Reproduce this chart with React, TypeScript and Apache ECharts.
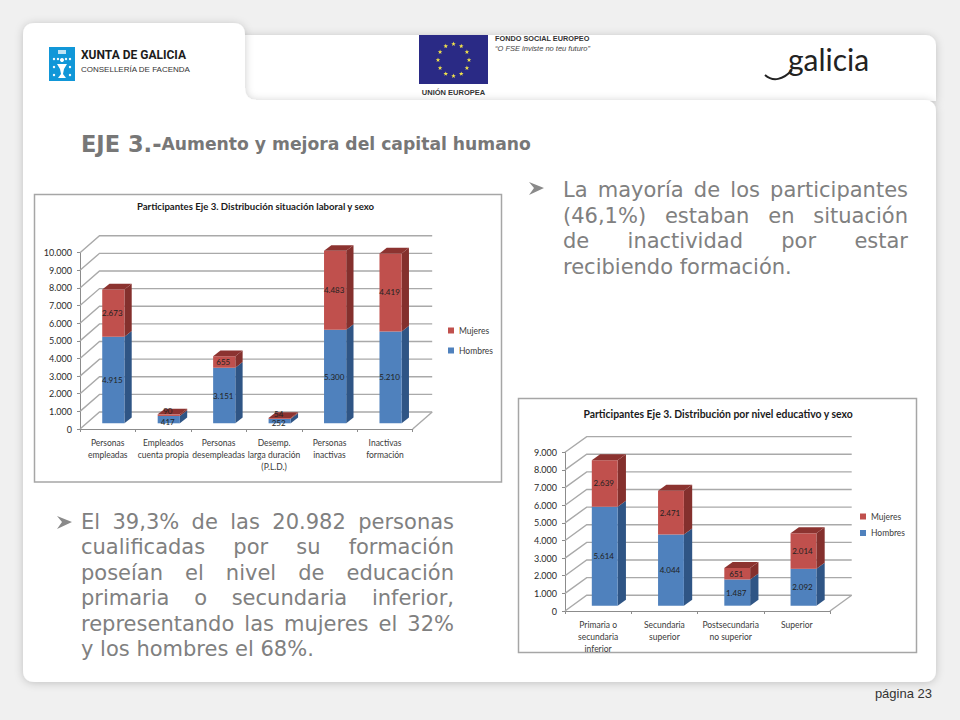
import React, { useEffect, useRef } from "react";
import * as echarts from "echarts";

// ---- data ----
const laborCategories = ["Personas\nempleadas", "Empleados\ncuenta propia", "Personas\ndesempleadas", "Desemp.\nlarga duración\n(P.L.D.)", "Personas\ninactivas", "Inactivas\nformación"];
const laborHombres = [4915, 417, 3151, 252, 5300, 5210];
const laborMujeres = [2673, 90, 655, 54, 4483, 4419];
const eduCategories = ["Primaria o\nsecundaria\ninferior", "Secundaria\nsuperior", "Postsecundaria\nno superior", "Superior"];
const eduHombres = [5614, 4044, 1487, 2092];
const eduMujeres = [2639, 2471, 651, 2014];
const laborTicks = [0, 1000, 2000, 3000, 4000, 5000, 6000, 7000, 8000, 9000, 10000];
const eduTicks = [0, 1000, 2000, 3000, 4000, 5000, 6000, 7000, 8000, 9000];
const legendNames = ["Mujeres", "Hombres"];
const laborTitle = "Participantes Eje 3. Distribución situación laboral y sexo";
const eduTitle = "Participantes Eje 3. Distribución por nivel educativo y sexo";
const paraTop = ["La mayoría de los participantes", "(46,1%) estaban en situación", "de inactividad por estar", "recibiendo formación."];
const paraBottom = ["El 39,3% de las 20.982 personas", "cualificadas por su formación", "poseían el nivel de educación", "primaria o secundaria inferior,", "representando las mujeres el 32%", "y los hombres el 68%."];

const LABEL_FONT = "Lato, 'Open Sans', sans-serif";
const BODY_FONT = "'DejaVu Sans', Verdana, sans-serif";
const SANS = "'Liberation Sans', Arial, sans-serif";
const num = (v: number) => String(v).replace(/\B(?=(\d{3})+$)/g, ".");

echarts.graphic.registerShape(
  "slidePanel",
  echarts.graphic.extendPath("M23,35 Q23,23 35,23 L233,23 Q245,23 245,35 L245,88 Q245,100 257,100 L924,100 Q936,100 936,112 L936,670 Q936,682 924,682 L35,682 Q23,682 23,670 Z", {})
);

type Depth = { wallX: number; wallY: number; shiftX: number; shiftY: number; barX: number; barY: number; ratio: number };
const laborDepth: Depth = { wallX: 19.5, wallY: 17, shiftX: 5.6, shiftY: 5.7, barX: 7.3, barY: 5.7, ratio: 0.4 };
const eduDepth: Depth = { wallX: 21.7, wallY: 15.7, shiftX: 6.6, shiftY: 5.3, barX: 8.3, barY: 6, ratio: 0.39 };

const pt = (a: number, b: number) => [a, b];

function wallSeries(ticks: number[], d: Depth, idx: number) {
  return {
    type: "custom", coordinateSystem: "cartesian2d", xAxisIndex: idx, yAxisIndex: idx, silent: true, z: 1,
    data: ticks.map((t) => [0, t]), encode: { x: 0, y: 1 }, clip: false,
    renderItem: (params: any, api: any) => {
      const v = api.value(1);
      const y = api.coord([0, v])[1];
      const cs = params.coordSys;
      const stroke = { stroke: "#a9a9a9", lineWidth: 1.4, fill: "none" };
      const children: any[] = [{
        type: "polyline",
        shape: { points: [pt(cs.x, y), pt(cs.x + d.wallX, y - d.wallY), pt(cs.x + cs.width + d.wallX, y - d.wallY)] },
        style: stroke,
      }];
      if (v === 0) {
        children.push({
          type: "line",
          shape: { x1: cs.x + cs.width, y1: y, x2: cs.x + cs.width + d.wallX, y2: y - d.wallY },
          style: stroke,
        });
      }
      return { type: "group", children };
    },
  };
}

function barSeries(name: string, base: number[], vals: number[], d: Depth, idx: number, c: { front: string; side: string; top: string }, isTop: boolean) {
  return {
    type: "custom", name, coordinateSystem: "cartesian2d", xAxisIndex: idx, yAxisIndex: idx, silent: true, z: 3,
    itemStyle: { color: c.front }, clip: false,
    data: vals.map((v, i) => [i, base[i], base[i] + v, v]), encode: { x: 0, y: [1, 2] },
    renderItem: (_p: any, api: any) => {
      const cat = api.value(0);
      const lo = api.coord([cat, api.value(1)]);
      const hi = api.coord([cat, api.value(2)]);
      const w = api.size([1, 0])[0] * d.ratio;
      const x0 = lo[0] + d.shiftX - w / 2;
      const x1 = x0 + w;
      const yb = lo[1] - d.shiftY;
      const yt = hi[1] - d.shiftY;
      const val = api.value(3);
      const small = val < 500;
      const labelY = (yb + yt) / 2 + (small ? (isTop ? -4 : 2) : 0);
      const children: any[] = [
        { type: "polygon", shape: { points: [pt(x1, yb), pt(x1 + d.barX, yb - d.barY), pt(x1 + d.barX, yt - d.barY), pt(x1, yt)] }, style: { fill: c.side } },
        { type: "rect", shape: { x: x0, y: yt, width: w, height: yb - yt }, style: { fill: c.front } },
      ];
      if (isTop) {
        children.push({ type: "polygon", shape: { points: [pt(x0, yt), pt(x1, yt), pt(x1 + d.barX, yt - d.barY), pt(x0 + d.barX, yt - d.barY)] }, style: { fill: c.top } });
      }
      children.push({
        type: "text",
        style: { text: num(val), x: (x0 + x1) / 2 - 1, y: labelY, align: "center", verticalAlign: "middle", font: `8px ${LABEL_FONT}`, fill: "#222" },
      });
      return { type: "group", children };
    },
  };
}

const blue = { front: "#4f81bd", side: "#2f5585", top: "#2f5585" };
const red = { front: "#c0504d", side: "#84302d", top: "#8c3330" };

function axes(cats: string[], max: number, idx: number) {
  const lineCol = "#8c8c8c";
  return {
    x: {
      type: "category", gridIndex: idx, data: cats, boundaryGap: true,
      axisLine: { show: true, lineStyle: { color: lineCol, width: 1 } },
      axisTick: { show: true, length: 3, lineStyle: { color: lineCol } },
      axisLabel: { interval: 0, margin: 8, fontFamily: LABEL_FONT, fontSize: 8.5, lineHeight: 12, color: "#3a3a3a" },
    },
    y: {
      type: "value", gridIndex: idx, min: 0, max, interval: 1000,
      axisLine: { show: true, lineStyle: { color: lineCol, width: 1 } },
      axisTick: { show: true, length: 3, lineStyle: { color: lineCol } },
      splitLine: { show: false },
      axisLabel: { margin: 8, fontFamily: LABEL_FONT, fontSize: 9, color: "#2a2a2a", formatter: (v: number) => num(v) },
    },
  };
}

function legend(left: number, top: number, gap: number) {
  return {
    orient: "vertical", left, top, padding: 0, itemWidth: 6, itemHeight: 6, itemGap: gap, selectedMode: false, icon: "rect",
    data: legendNames, textStyle: { fontFamily: LABEL_FONT, fontSize: 8.5, color: "#3a3a3a", padding: [0, 0, 0, 0] },
  };
}

function measure(s: string, font: string) {
  const ctx = document.createElement("canvas").getContext("2d")!;
  ctx.font = font;
  return ctx.measureText(s).width;
}

function justified(lines: string[], left: number, right: number, y0: number, lh: number) {
  const font = `21px ${BODY_FONT}`;
  const out: any[] = [];
  lines.forEach((line, li) => {
    const words = line.split(" ");
    const widths = words.map((w) => measure(w, font));
    const total = widths.reduce((a, b) => a + b, 0);
    const isLast = li === lines.length - 1;
    const gap = isLast ? measure(" ", font) : (right - left - total) / (words.length - 1);
    let x = left;
    words.forEach((w, i) => {
      out.push({ type: "text", z: 1, style: { text: w, x, y: y0 + li * lh, font, fill: "#808080", align: "left", verticalAlign: "middle" } });
      x += widths[i] + gap;
    });
  });
  return out;
}

function star(cx: number, cy: number, r: number) {
  const pts: number[][] = [];
  for (let i = 0; i < 10; i++) {
    const a = -Math.PI / 2 + (i * Math.PI) / 5;
    const rr = i % 2 ? r * 0.42 : r;
    pts.push([cx + rr * Math.cos(a), cy + rr * Math.sin(a)]);
  }
  return pts;
}

function decoration() {
  const shadow = { shadowBlur: 8, shadowColor: "rgba(0,0,0,0.2)", shadowOffsetX: 0, shadowOffsetY: 1 };
  const els: any[] = [
    { type: "rect", z: -10, shape: { x: 240, y: 35, width: 696, height: 66, r: [0, 10, 0, 0] }, style: { fill: "#fff", ...shadow } },
    { type: "slidePanel", z: -9, style: { fill: "#fff", ...shadow } },
    // chart frames
    { type: "rect", z: -5, shape: { x: 34.5, y: 194.5, width: 467, height: 287.5 }, style: { fill: "#fff", stroke: "#a6a6a6", lineWidth: 1.5 } },
    { type: "rect", z: -5, shape: { x: 518.5, y: 398.5, width: 398, height: 254 }, style: { fill: "#fff", stroke: "#a6a6a6", lineWidth: 1.5 } },
    // Xunta logo
    { type: "rect", z: 1, shape: { x: 49, y: 47, width: 26, height: 34 }, style: { fill: "#1197d8" } },
    { type: "polygon", z: 2, shape: { points: [[57, 64], [67, 64], [64, 69], [63, 74], [66, 78], [58, 78], [61, 74], [60, 69]] }, style: { fill: "#fff" } },
    { type: "circle", z: 2, shape: { cx: 62, cy: 60, r: 2 }, style: { fill: "#fff" } },
    { type: "rect", z: 2, shape: { x: 58, y: 50, width: 8, height: 4 }, style: { fill: "#bfe3f5" } },
    { type: "text", z: 1, style: { text: "XUNTA DE GALICIA", x: 81, y: 54.5, font: `bold 12px Roboto, ${SANS}`, fill: "#1c1c1c", align: "left", verticalAlign: "middle" } },
    { type: "text", z: 1, style: { text: "CONSELLERÍA DE FACENDA", x: 81, y: 69, font: `8px ${SANS}`, fill: "#333", align: "left", verticalAlign: "middle" } },
    // EU flag
    { type: "rect", z: 1, shape: { x: 419, y: 35, width: 69, height: 49 }, style: { fill: "#2a2a85" } },
    { type: "text", z: 1, style: { text: "UNIÓN EUROPEA", x: 453.5, y: 92, font: `bold 7.5px ${SANS}`, fill: "#333", align: "center", verticalAlign: "middle" } },
    { type: "text", z: 1, style: { text: "FONDO SOCIAL EUROPEO", x: 495, y: 38.5, font: `bold 7.3px ${SANS}`, fill: "#333", align: "left", verticalAlign: "middle" } },
    { type: "text", z: 1, style: { text: "“O FSE inviste no teu futuro”", x: 495, y: 48, font: `italic 7.5px ${SANS}`, fill: "#444", align: "left", verticalAlign: "middle" } },
    // Galicia logo
    { type: "text", z: 1, style: { text: "galicia", x: 788, y: 59, font: `30px Lato, ${SANS}`, fill: "#222", align: "left", verticalAlign: "middle" } },
    { type: "bezierCurve", z: 1, shape: { x1: 765, y1: 75, cpx1: 773, cpy1: 82, cpx2: 783, cpy2: 80, x2: 792, y2: 70 }, style: { stroke: "#222", lineWidth: 2, fill: "none" } },
    // heading
    {
      type: "text", z: 1,
      style: {
        text: "{a|EJE 3.-}{b|Aumento y mejora del capital humano}", x: 81, y: 144, align: "left", verticalAlign: "middle",
        rich: {
          a: { font: `bold 22.5px ${BODY_FONT}`, fill: "#777777" },
          b: { font: `bold 17.2px ${BODY_FONT}`, fill: "#777777" },
        },
      },
    },
    // bullets
    { type: "polygon", z: 1, shape: { points: [[529, 182], [544, 188], [529, 195], [534, 188]] }, style: { fill: "#8a8a8a" } },
    { type: "polygon", z: 1, shape: { points: [[57, 516], [72, 522], [57, 529], [62, 522]] }, style: { fill: "#8a8a8a" } },
    { type: "text", z: 1, style: { text: "página 23", x: 932, y: 693, font: `13px ${SANS}`, fill: "#333", align: "right", verticalAlign: "middle" } },
  ];
  for (let i = 0; i < 12; i++) {
    const a = (i * Math.PI) / 6;
    els.push({ type: "polygon", z: 2, shape: { points: star(453.5 + 15.5 * Math.sin(a), 60 - 16 * Math.cos(a), 2.4) }, style: { fill: "#f2e34a" } });
  }
  for (const [dx, dy] of [[-8, 0], [8, 0], [-8, 8], [8, 8], [-8, 16], [8, 16], [-4, 0], [4, 0]]) {
    els.push({ type: "circle", z: 2, shape: { cx: 62 + dx, cy: 59 + dy, r: 1.2 }, style: { fill: "#fff" } });
  }
  return els;
}

export default function App() {
  const ref = useRef<HTMLDivElement>(null);
  useEffect(() => {
    document.body.style.margin = "0";
    const chart = echarts.init(ref.current!, undefined, { renderer: "svg" });
    const a0 = axes(laborCategories, 10000, 0);
    const a1 = axes(eduCategories, 9000, 1);
    const zeros = (n: number) => new Array(n).fill(0);
    chart.setOption({
      animation: false,
      backgroundColor: "#f0f0f0",
      title: [
        { text: laborTitle, left: 255.5, top: 201, padding: 0, textAlign: "center", textStyle: { fontFamily: LABEL_FONT, fontSize: 9.6, fontWeight: "bold", color: "#1a1a1a" } },
        { text: eduTitle, left: 718, top: 409, padding: 0, textAlign: "center", textStyle: { fontFamily: LABEL_FONT, fontSize: 10.4, fontWeight: "bold", color: "#1a1a1a" } },
      ],
      grid: [
        { left: 80, top: 252.7, width: 332.7, height: 176.3 },
        { left: 565, top: 452.3, width: 265, height: 158.7 },
      ],
      xAxis: [a0.x, a1.x],
      yAxis: [a0.y, a1.y],
      legend: [legend(448, 326, 11), legend(860, 512, 7.5)],
      graphic: [...decoration(), ...justified(paraTop, 563, 908, 190, 25.6), ...justified(paraBottom, 81, 454, 522, 25.4)],
      series: [
        wallSeries(laborTicks, laborDepth, 0),
        barSeries("Hombres", zeros(6), laborHombres, laborDepth, 0, blue, false),
        barSeries("Mujeres", laborHombres, laborMujeres, laborDepth, 0, red, true),
        wallSeries(eduTicks, eduDepth, 1),
        barSeries("Hombres", zeros(4), eduHombres, eduDepth, 1, blue, false),
        barSeries("Mujeres", eduHombres, eduMujeres, eduDepth, 1, red, true),
      ],
    });
    return () => chart.dispose();
  }, []);
  return <div ref={ref} style={{ position: "absolute", left: 0, top: 0, width: 960, height: 720 }} />;
}
